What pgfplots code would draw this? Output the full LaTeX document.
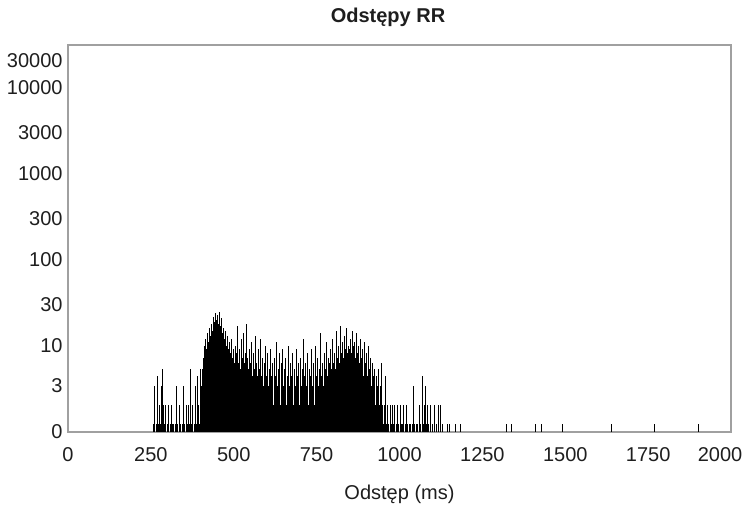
\documentclass[border=0pt]{standalone}
\usepackage{fontspec}
\setmainfont{Liberation Sans}
\usepackage{graphicx}
\usepackage{pgfplots}
\pgfplotsset{compat=1.18}
\definecolor{axgray}{RGB}{160,160,160}
\definecolor{txt}{RGB}{30,30,30}
\begin{document}
\begin{tikzpicture}
\begin{axis}[
  scale only axis,
  width=331.5pt, height=193.5pt,
  xmin=0, xmax=2000,
  ymin=0, ymax=31623,
  y coord trafo/.code={%
    \begingroup
    \pgfkeys{/pgf/fpu=true,/pgf/fpu/output format=fixed}%
    \pgfmathparse{(#1<1)*8*#1 + (#1>=1)*(#1<3)*(8+19*(#1-1)) + (#1>=3)*(#1<10)*(46+76.5*ln(max(#1,1)/3)/ln(10)) + (#1>=10)*(86+86*ln(max(#1,1)/10)/ln(10))}%
    \pgfmathsmuggle\pgfmathresult
    \endgroup
  },
  ytick={0,3,10,30,100,300,1000,3000,10000,20600},
  yticklabels={0,3,10,30,100,300,1000,3000,10000,30000},
  xtick={0,250,500,750,1000,1250,1500,1750},
  xticklabels={0,250,500,750,1000,1250,1500,1750},
  extra x ticks={2000},
  extra x tick labels={2000},
  extra x tick style={xticklabel style={xshift=-5.5pt}},
  major tick length=0pt,
  axis line style={axgray, line width=0.8pt},
  tick label style={font=\fontsize{10}{12}\selectfont, text=txt},
  yticklabel style={anchor=east, inner sep=0pt, xshift=-2.5pt},
  xticklabel style={anchor=north, inner sep=0pt, yshift=-7.5pt},
  xlabel={Odstęp (ms)},
  xlabel style={at={(axis description cs:0.5,0)}, anchor=north, inner sep=0pt, yshift=-26.5pt, font=\fontsize{10}{12}\selectfont, text=txt},
  title={Odstępy RR},
  title style={at={(axis description cs:0.5,1)}, anchor=base, inner sep=0pt, yshift=5pt, xshift=-5.75pt, font=\fontsize{10}{12}\selectfont\bfseries, text=txt},
]
\addplot[ycomb, black, line width=0.32pt, mark=none] coordinates {
(258,1)(261,3)(267,1)(270,4)(273,1)(276,2)(279,1)(282,3)(285,5)(288,2)(291,1)(294,2)(300,1)(303,2)(309,1)(312,2)(315,1)(318,1)(324,1)(327,3)(330,1)(336,2)(339,1)(345,1)(348,3)(351,1)(357,2)(360,1)(363,2)(366,1)(369,5)(372,1)(375,2)(381,1)(384,3)(387,1)(390,4)(393,2)(396,1)(399,5)(402,3)(405,5)(408,7)(411,10)(414,12)(417,9)(420,14)(423,11)(426,16)(429,13)(432,18)(435,15)(438,22)(441,19)(444,24)(447,20)(450,23)(453,18)(456,25)(459,17)(462,21)(465,14)(468,16)(471,12)(474,15)(477,10)(480,13)(483,9)(486,11)(489,8)(492,12)(495,7)(498,9)(501,6)(504,10)(507,8)(510,17)(513,6)(516,9)(519,5)(522,12)(525,7)(528,14)(531,6)(534,8)(537,18)(540,7)(543,5)(546,9)(549,6)(552,11)(555,4)(558,8)(561,5)(564,13)(567,6)(570,4)(573,9)(576,5)(579,12)(582,4)(585,7)(588,3)(591,6)(594,10)(597,4)(600,8)(603,3)(606,5)(609,9)(612,4)(615,6)(618,2)(621,7)(624,4)(627,11)(630,3)(633,5)(636,8)(639,2)(642,6)(645,4)(648,9)(651,3)(654,5)(657,7)(660,2)(663,4)(666,10)(669,3)(672,6)(675,4)(678,8)(681,2)(684,5)(687,3)(690,9)(693,4)(696,6)(699,2)(702,7)(705,3)(708,5)(711,12)(714,4)(717,6)(720,3)(723,8)(726,2)(729,5)(732,4)(735,9)(738,3)(741,6)(744,2)(747,10)(750,4)(753,7)(756,3)(759,5)(762,14)(765,4)(768,6)(771,3)(774,8)(777,5)(780,11)(783,4)(786,7)(789,6)(792,9)(795,5)(798,12)(801,6)(804,8)(807,5)(810,15)(813,7)(816,10)(819,6)(822,17)(825,8)(828,11)(831,7)(834,13)(837,9)(840,16)(843,8)(846,10)(849,9)(852,12)(855,8)(858,15)(861,10)(864,11)(867,7)(870,14)(873,8)(876,10)(879,6)(882,12)(885,7)(888,9)(891,4)(894,11)(897,6)(900,8)(903,4)(906,10)(909,5)(912,7)(915,3)(918,6)(921,4)(924,5)(927,2)(930,4)(933,3)(936,5)(939,2)(942,3)(945,6)(948,2)(951,1)(954,2)(957,4)(960,1)(963,2)(966,1)(972,2)(975,1)(978,2)(981,1)(984,2)(990,1)(993,2)(996,1)(1002,2)(1005,1)(1008,1)(1011,2)(1017,1)(1020,2)(1023,1)(1029,1)(1032,1)(1038,1)(1041,3)(1044,1)(1050,1)(1053,1)(1059,2)(1062,1)(1068,4)(1071,1)(1074,2)(1077,3)(1080,1)(1083,2)(1086,1)(1092,2)(1098,1)(1104,2)(1110,1)(1116,2)(1122,2)(1128,1)(1143,1)(1150,1)(1167,1)(1182,1)(1321,1)(1336,1)(1409,1)(1427,1)(1490,1)(1638,1)(1768,1)(1900,1)
};
\end{axis}
\pgfresetboundingbox
\path ([shift={(-34pt,-37pt)}]current axis.south west) rectangle ([shift={(7.5pt,22.5pt)}]current axis.north east);
\end{tikzpicture}
\end{document}
